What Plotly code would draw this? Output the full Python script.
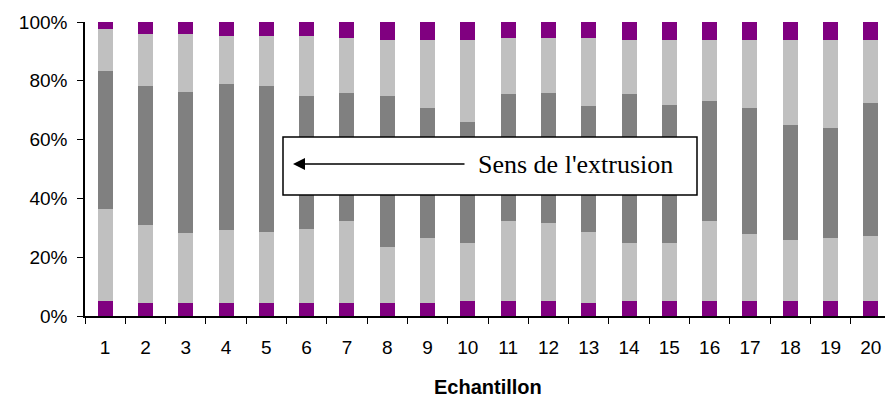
import plotly.graph_objects as go

# Sample numbers along the extruded part
samples = [str(i) for i in range(1, 21)]

# Share (%) of each layer in every sample, bottom to top
purple_bottom = [5.1, 4.4, 4.4, 4.4, 4.4, 4.4, 4.4, 4.4, 4.4, 5.1,
                 5.1, 5.1, 4.4, 5.1, 5.1, 5.1, 5.1, 5.1, 5.1, 5.1]
light_bottom = [31.3, 26.4, 23.7, 24.9, 24.2, 25.1, 27.9, 19.1, 22.1, 19.9,
                27.1, 26.4, 24.2, 19.9, 19.9, 27.1, 22.8, 20.7, 21.4, 22.1]
dark_core = [46.9, 47.5, 48.1, 49.7, 49.7, 45.2, 43.7, 51.2, 44.1, 41.1,
             43.2, 44.5, 42.7, 50.5, 46.9, 41.1, 42.7, 39.0, 37.6, 45.4]
light_top = [14.2, 17.7, 19.8, 16.4, 17.1, 20.7, 18.6, 19.1, 23.2, 27.7,
             19.2, 18.6, 23.3, 18.3, 21.9, 20.5, 23.2, 29.0, 29.7, 21.2]
purple_top = [2.5, 4.0, 4.0, 4.6, 4.6, 4.6, 5.4, 6.2, 6.2, 6.2,
              5.4, 5.4, 5.4, 6.2, 6.2, 6.2, 6.2, 6.2, 6.2, 6.2]

layers = [
    (purple_bottom, "#800080"),
    (light_bottom, "#C0C0C0"),
    (dark_core, "#808080"),
    (light_top, "#C0C0C0"),
    (purple_top, "#800080"),
]

fig = go.Figure()
for values, color in layers:
    fig.add_trace(go.Bar(
        x=samples, y=values, marker=dict(color=color, line=dict(width=0)),
        width=0.37, showlegend=False, hoverinfo="skip",
    ))

W, H = 885, 400
L, R, T, B = 85, 0, 22, 84
pw, ph = W - L - R, H - T - B
cat_px = 40.3


def px_x(px):
    return (px - L) / pw


def px_y(py):
    return (H - B - py) / ph


fig.update_layout(
    width=W, height=H,
    margin=dict(l=L, r=R, t=T, b=B, pad=0),
    barmode="stack", barnorm="percent",
    plot_bgcolor="white", paper_bgcolor="white",
    font=dict(family="Liberation Sans, Arial, sans-serif", size=19, color="black"),
    xaxis=dict(
        type="category", range=[-0.5, -0.5 + pw / cat_px],
        showline=True, linecolor="black", linewidth=1.5,
        ticks="outside", tickson="boundaries", ticklen=6, tickcolor="black",
        tickwidth=1, showgrid=False, ticklabelstandoff=13,
        tickfont=dict(size=19),
    ),
    yaxis=dict(
        range=[0, 100], tickvals=[0, 20, 40, 60, 80, 100],
        ticktext=["0%", "20%", "40%", "60%", "80%", "100%"],
        showline=True, linecolor="black", linewidth=1.5,
        ticks="outside", ticklen=6, tickcolor="black", tickwidth=1,
        showgrid=False, zeroline=False, ticklabelstandoff=6,
        tickfont=dict(size=19),
    ),
    shapes=[dict(
        type="rect", xref="paper", yref="paper",
        x0=px_x(283), x1=px_x(697), y0=px_y(195), y1=px_y(137),
        fillcolor="white", line=dict(color="black", width=1.5), layer="above",
    )],
    annotations=[
        dict(
            xref="paper", yref="paper", x=px_x(293), y=px_y(164),
            ax=173, ay=0, axref="pixel", ayref="pixel",
            text="", showarrow=True, arrowhead=2, arrowsize=1.6,
            arrowwidth=1.5, arrowcolor="black",
        ),
        dict(
            xref="paper", yref="paper", x=px_x(476), y=px_y(164),
            xanchor="left", yanchor="middle", showarrow=False,
            text="Sens de l'extrusion",
            font=dict(family="Liberation Serif, Times New Roman, serif", size=26, color="black"),
        ),
        dict(
            xref="paper", yref="paper", x=px_x(488), y=px_y(387),
            xanchor="center", yanchor="middle", showarrow=False,
            text="<b>Echantillon</b>", borderpad=0,
            font=dict(family="Liberation Sans, Arial, sans-serif", size=20, color="black"),
        ),
    ],
)

fig.write_html("out.html")
